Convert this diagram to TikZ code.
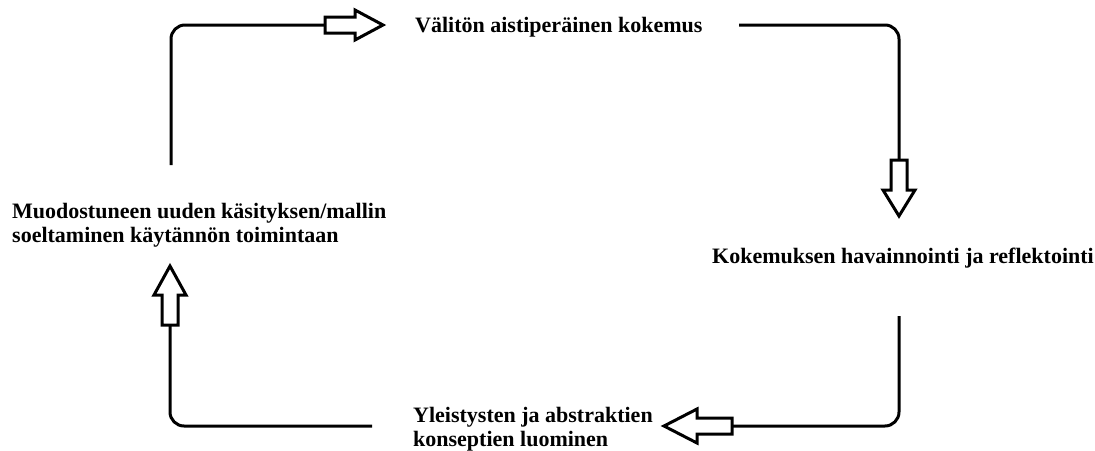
\documentclass[tikz,border=0pt]{standalone}
\usepackage{fontspec}
\setmainfont{Liberation Serif}
\begin{document}
\begin{tikzpicture}[x=1pt,y=-1pt,
  lbl/.style={inner sep=0pt, font=\bfseries\fontsize{22}{24}\selectfont, align=left},
  conn/.style={line width=3pt, rounded corners=14pt},
  blockarrow/.style={line width=3pt, fill=white, line join=miter}]
\useasboundingbox[fill=white] (0,0) rectangle (1095,450);
% labels (base anchor = last line for multi-line nodes)
\node[lbl, anchor=base west] (v) at (415,32) {Välitön aistiperäinen kokemus};
\node[lbl, anchor=base west] (k) at (712,263) {Kokemuksen havainnointi ja reflektointi};
\node[lbl, anchor=base west] (y) at (413,446) {Yleistysten ja abstraktien\\konseptien luominen};
\node[lbl, anchor=base west] (m) at (12,242) {Muodostuneen uuden käsityksen/mallin\\soeltaminen käytännön toimintaan};
% connector ends
\coordinate (c1a) at (171,165); \coordinate (c1b) at (325,25);
\coordinate (c2a) at (739,25);  \coordinate (c2b) at (899,160);
\coordinate (c3a) at (899,316); \coordinate (c3b) at (732,426);
\coordinate (c4a) at (372,426); \coordinate (c4b) at (170,325);
% connectors
\draw[conn] (c1a) |- (c1b);
\draw[conn] (c2a) -| (c2b);
\draw[conn] (c3a) |- (c3b);
\draw[conn] (c4a) -| (c4b);
% block arrows
\draw[blockarrow] (325,17) -- (355,17) -- (355,10) -- (383,25) -- (355,40) -- (355,33) -- (325,33) -- cycle;
\draw[blockarrow] (891,160) -- (907,160) -- (907,190) -- (915,190) -- (899,216) -- (883,190) -- (891,190) -- cycle;
\draw[blockarrow] (732,418) -- (697,418) -- (697,409) -- (664,426) -- (697,443) -- (697,434) -- (732,434) -- cycle;
\draw[blockarrow] (162,325) -- (178,325) -- (178,295) -- (186,295) -- (170,266) -- (154,295) -- (162,295) -- cycle;
\end{tikzpicture}
\end{document}
